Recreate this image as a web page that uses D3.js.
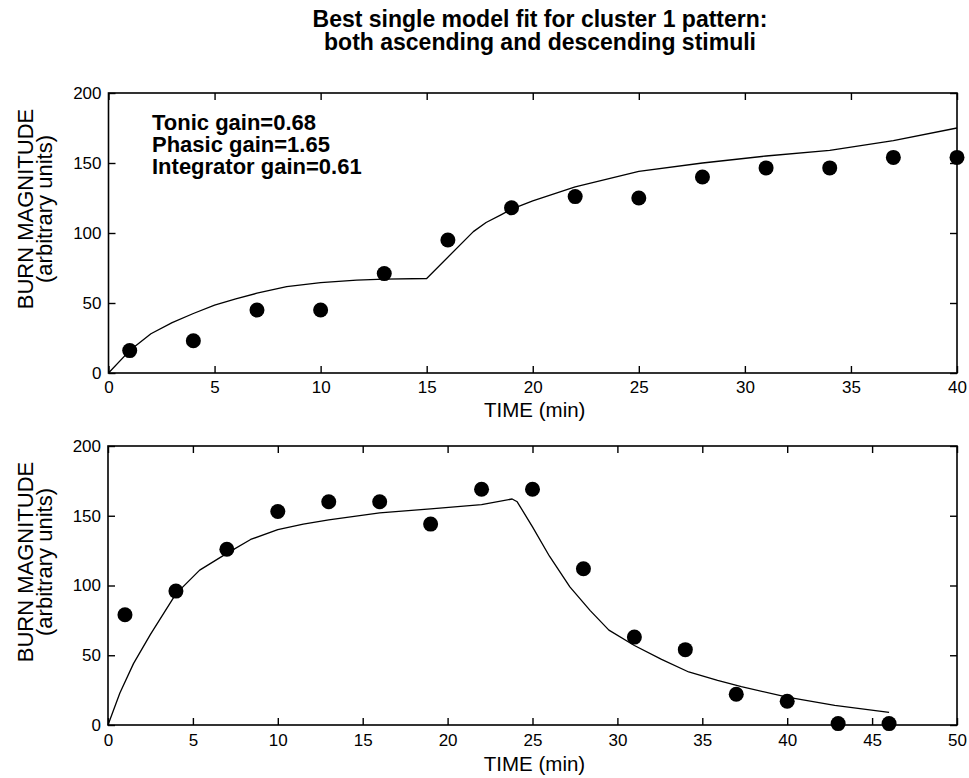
<!DOCTYPE html>
<html>
<head>
<meta charset="utf-8">
<script src="https://cdn.jsdelivr.net/npm/d3@7"></script>
<style>
  body { margin: 0; background: #fff; }
  svg text { font-family: "Liberation Sans", Arial, Helvetica, sans-serif; fill: #000; }
  .frame { fill: none; stroke: #000; stroke-width: 1.6px; }
  .tick line { stroke: #000; stroke-width: 1.4px; }
  .domain { display: none; }
  .fit { fill: none; stroke: #000; stroke-width: 1.3px; stroke-linejoin: round; }
</style>
</head>
<body>
<div id="chart"></div>
<script>
// top panel: ascending stimuli
const topTime = [1, 4, 7, 10, 13, 16, 19, 22, 25, 28, 31, 34, 37, 40]
const topBurn = [16, 23, 45, 45, 71, 95, 118, 126, 125, 140, 146.5, 146.5, 154, 154]
const topFitTime = [0, 1, 2, 3, 4, 5, 6, 7, 8.4, 10, 11.7, 13, 15, 17.2, 17.8, 18.5, 19, 20, 22, 25, 28, 31, 34, 37, 40]
const topFitBurn = [0, 16, 28, 36, 42.5, 48.5, 53, 57, 61.7, 64.5, 66.4, 67, 67.5, 101, 107.5, 113, 117, 123, 133, 144, 150, 155, 159, 166, 175]
const topXTicks = [0, 5, 10, 15, 20, 25, 30, 35, 40]

// bottom panel: ascending then descending
const botTime = [1, 4, 7, 10, 13, 16, 19, 22, 25, 28, 31, 34, 37, 40, 43, 46]
const botBurn = [79, 96, 126, 153, 160, 160, 144, 169, 169, 112, 63, 54, 22, 17, 1, 1]
const botFitTime = [0, 0.7, 1.5, 2.5, 4, 5.4, 7, 8.4, 10, 11.5, 13, 16, 19, 22, 23.8, 24.1, 25, 26, 27.2, 28.4, 29.5, 31, 32.6, 34.2, 35.9, 37.3, 40, 42.8, 46]
const botFitBurn = [0, 23, 44, 65, 94, 111, 123, 133, 140, 144, 147, 152, 155, 158, 162, 160, 142, 121, 99, 82, 68, 57, 47, 38, 32, 27.5, 20, 14, 9]
const botXTicks = [0, 5, 10, 15, 20, 25, 30, 35, 40, 45, 50]

const yTicks = [0, 50, 100, 150, 200]
const titleLines = ['Best single model fit for cluster 1 pattern:', 'both ascending and descending stimuli']
const gainLines = ['Tonic gain=0.68', 'Phasic gain=1.65', 'Integrator gain=0.61']

const width = 969
const height = 778

const svg = d3.select('#chart')
  .append('svg')
  .attr('width', width)
  .attr('height', height)

svg.append('text')
  .attr('x', 540)
  .attr('y', 27)
  .attr('text-anchor', 'middle')
  .style('font-size', '23px')
  .style('font-weight', 'bold')
  .selectAll('tspan')
  .data(titleLines)
  .join('tspan')
    .attr('x', 540)
    .attr('dy', (d, i) => i ? 22.5 : 0)
    .text(d => d)

drawPanel({
  box: { left: 108.5, right: 957, top: 93, bottom: 373 },
  xMax: 40, xTicks: topXTicks,
  time: topTime, burn: topBurn,
  fitTime: topFitTime, fitBurn: topFitBurn,
  labelY: 209, tickPad: 8, xTitleY: 417
})

drawPanel({
  box: { left: 108, right: 957, top: 446, bottom: 725 },
  xMax: 50, xTicks: botXTicks,
  time: botTime, burn: botBurn,
  fitTime: botFitTime, fitBurn: botFitBurn,
  labelY: 562, tickPad: 9, xTitleY: 771
})

// gain annotation sits inside the top panel
svg.append('g')
  .selectAll('text')
  .data(gainLines)
  .join('text')
    .attr('x', 152)
    .attr('y', (d, i) => 130 + i * 22)
    .style('font-size', '22px')
    .style('font-weight', 'bold')
    .text(d => d)


function drawPanel({ box, xMax, xTicks, time, burn, fitTime, fitBurn, labelY, tickPad, xTitleY }) {
  const x = d3.scaleLinear().domain([0, xMax]).range([box.left, box.right])
  const y = d3.scaleLinear().domain([0, 200]).range([box.bottom, box.top])

  const g = svg.append('g')

  // ticks point inward on all four sides
  g.append('g')
    .attr('transform', `translate(0,${box.bottom})`)
    .call(d3.axisBottom(x).tickValues(xTicks).tickSize(-7).tickPadding(tickPad))
    .call(a => a.selectAll('text').style('font-size', '17px'))

  g.append('g')
    .attr('transform', `translate(0,${box.top})`)
    .call(d3.axisTop(x).tickValues(xTicks).tickSize(-7).tickFormat(''))

  g.append('g')
    .attr('transform', `translate(${box.left},0)`)
    .call(d3.axisLeft(y).tickValues(yTicks).tickSize(-7).tickPadding(7))
    .call(a => a.selectAll('text').style('font-size', '17px'))

  g.append('g')
    .attr('transform', `translate(${box.right},0)`)
    .call(d3.axisRight(y).tickValues(yTicks).tickSize(-7).tickFormat(''))

  g.append('rect')
    .attr('class', 'frame')
    .attr('x', box.left)
    .attr('y', box.top)
    .attr('width', box.right - box.left)
    .attr('height', box.bottom - box.top)

  const fit = fitTime.map((t, i) => [t, fitBurn[i]])
  const line = d3.line()
    .x(d => x(d[0]))
    .y(d => y(d[1]))

  g.append('path')
    .attr('class', 'fit')
    .attr('d', line(fit))

  g.append('g')
    .selectAll('circle')
    .data(time)
    .join('circle')
      .attr('cx', d => x(d))
      .attr('cy', (d, i) => y(burn[i]))
      .attr('r', 7.5)
      .attr('fill', '#000')

  g.append('text')
    .attr('x', (box.left + box.right) / 2 + 2)
    .attr('y', xTitleY)
    .attr('text-anchor', 'middle')
    .style('font-size', '20.5px')
    .text('TIME (min)')

  const yLabel = g.append('text')
    .attr('transform', `translate(33,${labelY}) rotate(-90)`)
    .attr('text-anchor', 'middle')
    .style('font-size', '22px')
  yLabel.append('tspan')
    .attr('x', 0)
    .text('BURN MAGNITUDE')
  yLabel.append('tspan')
    .attr('x', 0)
    .attr('dy', 19)
    .text('(arbitrary units)')
}
</script>
</body>
</html>
